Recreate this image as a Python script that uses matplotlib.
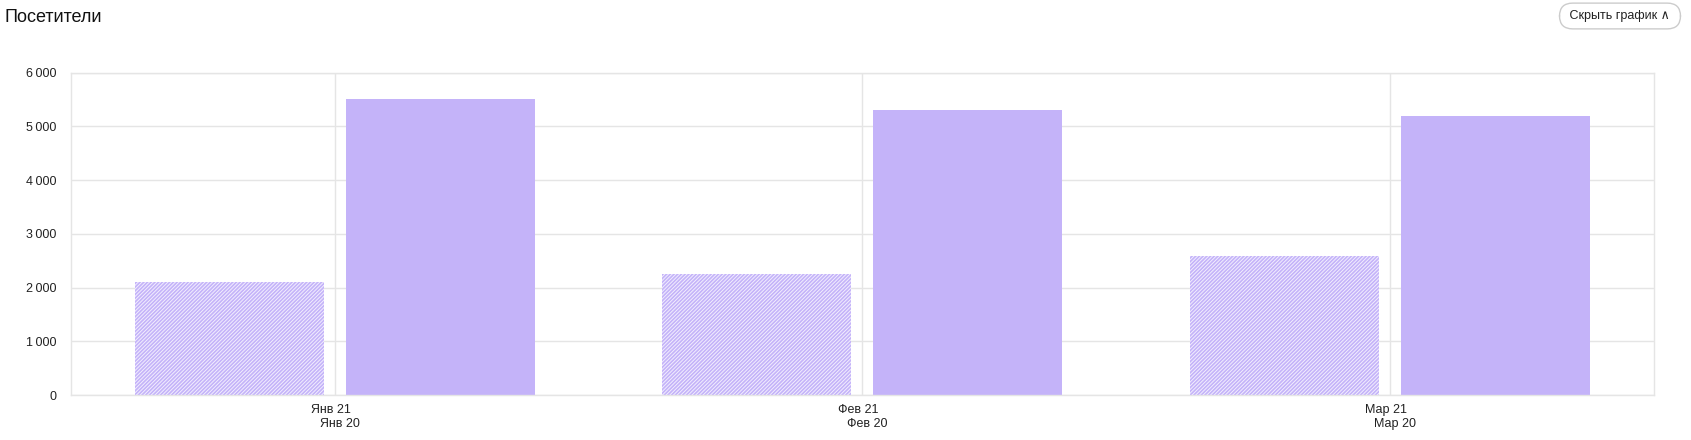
import numpy as np
import matplotlib
matplotlib.use("Agg")
import matplotlib.pyplot as plt
from matplotlib.ticker import FuncFormatter
import matplotlib.transforms as mtransforms

# ---------------- данные ----------------
months_cur = ["Янв 21", "Фев 21", "Мар 21"]
months_prev = ["Янв 20", "Фев 20", "Мар 20"]
visits_prev = [2100, 2255, 2595]
visits_cur = [5510, 5305, 5195]

LAV = "#c4b3f9"
GRID = "#e5e5e5"
plt.rcParams['font.family'] = ['Liberation Sans', 'DejaVu Sans']
plt.rcParams['hatch.linewidth'] = 1.2
plt.rcParams['hatch.color'] = LAV

fig = plt.figure(figsize=(16.91, 4.40), dpi=100)
ax = fig.add_axes([70.7 / 1691, 1 - 395 / 440, (1654 - 70.7) / 1691, (395 - 72.7) / 440])

x = np.arange(len(months_cur))
w = 0.358
gap = 0.021
ax.bar(x - gap - w / 2, visits_prev, w, color="#f3effe", edgecolor=LAV, hatch="/////////", linewidth=0, zorder=2)
ax.bar(x + gap + w / 2, visits_cur, w, color=LAV, linewidth=0, zorder=2)

ax.set_xlim(-0.5, len(x) - 0.5)
ax.set_ylim(0, 6000)
ax.set_yticks(np.arange(0, 6001, 1000))
ax.yaxis.set_major_formatter(FuncFormatter(lambda v, p: f"{int(v):,}".replace(",", "\u2009")))
ax.set_xticks(x)
ax.set_xticklabels([])
ax.grid(True, color=GRID, linewidth=1, zorder=0)
ax.set_axisbelow(True)
for s in ax.spines.values():
    s.set_color(GRID)
    s.set_linewidth(1)
ax.tick_params(length=0, labelsize=9, colors="#222222", pad=10)

# подписи по оси X (текущий и прошлый период)
for i in range(len(x)):
    t1 = mtransforms.offset_copy(ax.get_xaxis_transform(), fig=fig, x=-4, y=-15, units='dots')
    ax.text(x[i], 0, months_cur[i], transform=t1, ha="center", va="center", fontsize=9, color="#222222")
    t2 = mtransforms.offset_copy(ax.get_xaxis_transform(), fig=fig, x=5, y=-29, units='dots')
    ax.text(x[i], 0, months_prev[i], transform=t2, ha="center", va="center", fontsize=9, color="#222222")

fig.text(5 / 1691, 1 - 17 / 440, "Посетители", fontsize=13, ha="left", va="center", color="#111111")

# кнопка
fig.text(1620 / 1691, 1 - 16 / 440, " Скрыть график \u2227 ", fontsize=9, ha="center", va="center",
         color="#222222", family=['Liberation Sans', 'DejaVu Sans'],
         bbox=dict(boxstyle="round,pad=0.55,rounding_size=1.05", facecolor="white", edgecolor="#cccccc",
                   linewidth=1))

fig.savefig("out.png", dpi=100)
